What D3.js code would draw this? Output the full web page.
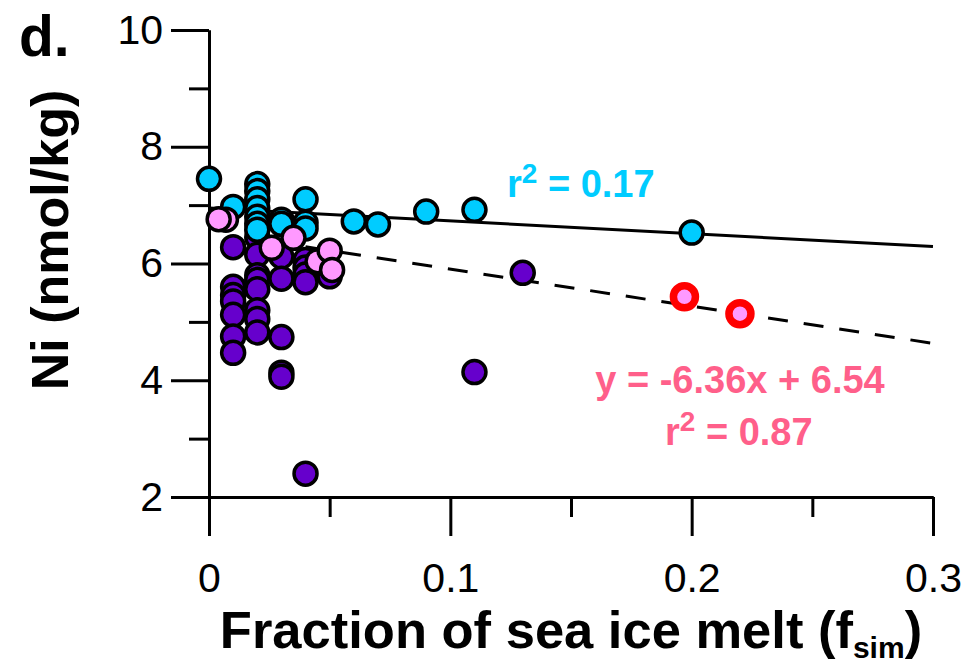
<!DOCTYPE html>
<html>
<head>
<meta charset="utf-8">
<script src="https://cdn.jsdelivr.net/npm/d3@7"></script>
<style>
  body { margin: 0; background: #fff; }
  svg { font-family: "Liberation Sans", Arial, sans-serif; }
  .axis path, .axis line { stroke: #000; stroke-width: 3; }
  .axis text { font-size: 41px; fill: #000; }
</style>
</head>
<body>
<div id="chart"></div>
<script>
// Data: [fraction of sea ice melt, Ni nmol/kg]
var cyanPoints = [
  [0.0, 7.45], [0.01, 6.97], [0.02, 7.36], [0.02, 7.24], [0.02, 7.1],
  [0.02, 6.95], [0.02, 6.8], [0.02, 6.68], [0.02, 6.58], [0.03, 6.75],
  [0.03, 6.68], [0.04, 7.1], [0.04, 6.7], [0.04, 6.6], [0.06, 6.72],
  [0.07, 6.67], [0.09, 6.89], [0.11, 6.92], [0.2, 6.53]
];

var purplePoints = [
  [0.02, 6.45], [0.01, 6.28], [0.01, 5.6], [0.01, 5.46], [0.01, 5.35],
  [0.01, 5.12], [0.01, 4.75], [0.01, 4.47], [0.02, 6.15], [0.02, 5.8],
  [0.02, 5.72], [0.02, 5.56], [0.02, 5.2], [0.02, 5.05], [0.02, 4.82],
  [0.03, 6.12], [0.03, 5.74], [0.03, 4.74], [0.03, 4.13], [0.03, 4.06],
  [0.04, 6.06], [0.04, 5.93], [0.04, 5.81], [0.04, 5.68], [0.04, 2.4],
  [0.05, 5.9], [0.05, 5.78], [0.11, 4.14], [0.13, 5.84]
];

var pinkPoints = [
  [0.007, 6.75], [0.004, 6.76], [0.026, 6.27], [0.035, 6.44],
  [0.045, 6.04], [0.05, 6.22], [0.051, 5.89]
];

var outlinedPoints = [[0.197, 5.43], [0.22, 5.14]];

// Regression lines: [slope, intercept, x start, x end]
var solidFit = [-2.2, 6.95, 0, 0.3];
var dashedFit = [-6.36, 6.54, 0.04, 0.3];

var xMajorTicks = [0, 0.1, 0.2, 0.3];
var xMinorTicks = [0.05, 0.15, 0.25];
var yMajorTicks = [2, 4, 6, 8, 10];
var yMinorTicks = [3, 5, 7, 9];

var width = 969;
var height = 670;
var margins = { top: 30, right: 36, bottom: 173, left: 209 };

var chartWidth = width - margins.left - margins.right;
var chartHeight = height - margins.top - margins.bottom;

var svg = d3.select("#chart")
  .append("svg")
  .attr("width", width)
  .attr("height", height);

var chartElement = svg.append("g")
  .attr("transform", "translate(" + margins.left + "," + margins.top + ")");

var xScale = d3.scaleLinear().domain([0, 0.3]).range([0, chartWidth]);
var yScale = d3.scaleLinear().domain([2, 10]).range([chartHeight, 0]);

// Axes: minor ticks first, then majors with labels
chartElement.append("g")
  .attr("class", "x axis minor")
  .attr("transform", "translate(0," + chartHeight + ")")
  .call(d3.axisBottom(xScale).tickValues(xMinorTicks).tickSize(20).tickSizeOuter(0).tickFormat(""));

chartElement.append("g")
  .attr("class", "x axis")
  .attr("transform", "translate(0," + chartHeight + ")")
  .call(d3.axisBottom(xScale).tickValues(xMajorTicks).tickSize(39).tickSizeOuter(0)
    .tickPadding(27).tickFormat((d) => d === 0 ? "0" : d3.format(".1f")(d)));

chartElement.append("g")
  .attr("class", "y axis minor")
  .call(d3.axisLeft(yScale).tickValues(yMinorTicks).tickSize(20).tickSizeOuter(0).tickFormat(""));

chartElement.append("g")
  .attr("class", "y axis")
  .call(d3.axisLeft(yScale).tickValues(yMajorTicks).tickSize(38).tickSizeOuter(0).tickPadding(8));

// Fit lines
function fitLine(fit) {
  return [[fit[2], fit[0] * fit[2] + fit[1]], [fit[3], fit[0] * fit[3] + fit[1]]];
}
var line = d3.line().x((d) => xScale(d[0])).y((d) => yScale(d[1]));

chartElement.append("path")
  .datum(fitLine(solidFit))
  .attr("d", line)
  .attr("fill", "none")
  .attr("stroke", "#000")
  .attr("stroke-width", 3);

chartElement.append("path")
  .datum(fitLine(dashedFit))
  .attr("d", line)
  .attr("fill", "none")
  .attr("stroke", "#000")
  .attr("stroke-width", 3)
  .attr("stroke-dasharray", "20,16");

// Points
function drawPoints(data, fill, stroke, strokeWidth, r) {
  chartElement.append("g")
    .selectAll("circle")
    .data(data)
    .enter()
    .append("circle")
    .attr("cx", (d) => xScale(d[0]))
    .attr("cy", (d) => yScale(d[1]))
    .attr("r", r)
    .attr("fill", fill)
    .attr("stroke", stroke)
    .attr("stroke-width", strokeWidth);
}

drawPoints(purplePoints, "#6600CC", "#000", 3.5, 11.5);
drawPoints(cyanPoints, "#00CCFF", "#000", 3.5, 11.5);
drawPoints(pinkPoints, "#FF99FF", "#000", 3.5, 11.5);
drawPoints(outlinedPoints, "#FF99FF", "#FF0000", 7.5, 11);

// Annotations
var cyanLabel = svg.append("text")
  .attr("x", 507).attr("y", 197)
  .attr("fill", "#00CCFF")
  .attr("font-weight", "bold")
  .attr("font-size", 38);
cyanLabel.append("tspan").text("r");
cyanLabel.append("tspan").attr("dy", -14).attr("font-size", 28).text("2");
cyanLabel.append("tspan").attr("dy", 14).text(" = 0.17");

svg.append("text")
  .attr("x", 740).attr("y", 393)
  .attr("text-anchor", "middle")
  .attr("fill", "#FF5F8A")
  .attr("font-weight", "bold")
  .attr("font-size", 38)
  .text("y = -6.36x + 6.54");

var pinkLabel = svg.append("text")
  .attr("x", 665).attr("y", 445)
  .attr("fill", "#FF5F8A")
  .attr("font-weight", "bold")
  .attr("font-size", 38);
pinkLabel.append("tspan").text("r");
pinkLabel.append("tspan").attr("dy", -14).attr("font-size", 28).text("2");
pinkLabel.append("tspan").attr("dy", 14).text(" = 0.87");

// Panel letter and axis titles
svg.append("text")
  .attr("x", 19).attr("y", 56)
  .attr("font-weight", "bold")
  .attr("font-size", 57)
  .text("d.");

svg.append("text")
  .attr("transform", "translate(68,240) rotate(-90)")
  .attr("text-anchor", "middle")
  .attr("font-weight", "bold")
  .attr("font-size", 52)
  .text("Ni (nmol/kg)");

var xTitle = svg.append("text")
  .attr("x", margins.left + chartWidth / 2)
  .attr("y", 648)
  .attr("text-anchor", "middle")
  .attr("font-weight", "bold")
  .attr("font-size", 52.5);
xTitle.append("tspan").text("Fraction of sea ice melt (f");
xTitle.append("tspan").attr("dy", 10).attr("font-size", 30).text("sim");
xTitle.append("tspan").attr("dy", -10).text(")");
</script>
</body>
</html>
